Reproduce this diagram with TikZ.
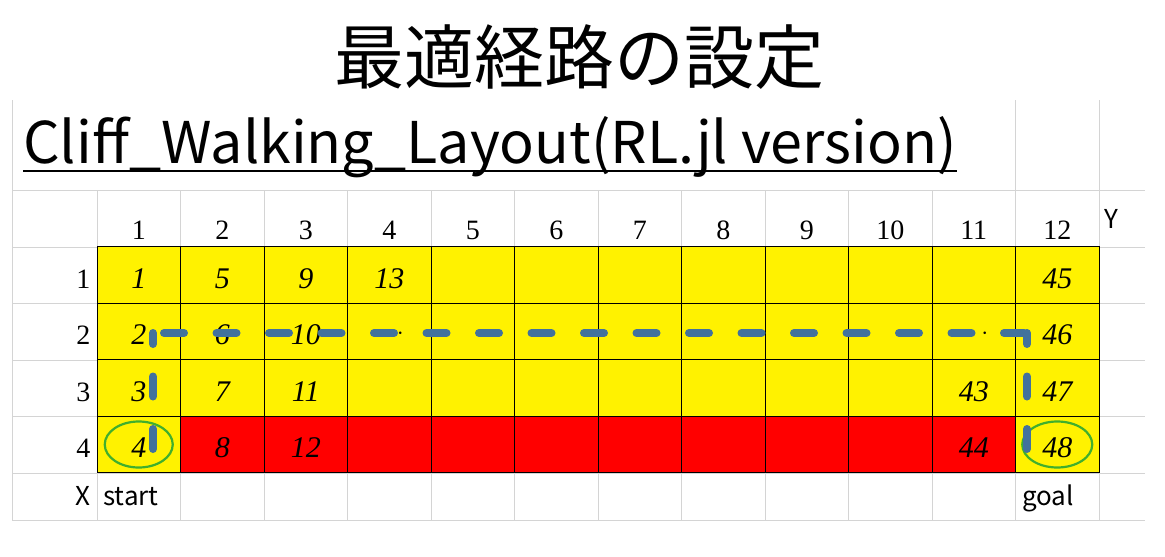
\documentclass[tikz,border=0pt]{standalone}
\usepackage{fontspec}
\setmainfont{Liberation Serif}
\newfontfamily\jpfont{Noto Sans CJK JP}
\usepackage{tikz}

\definecolor{gridgray}{RGB}{212,212,212}
\definecolor{pathblue}{RGB}{66,114,156}
\definecolor{ringgreen}{RGB}{64,175,45}

\tikzset{
  gridline/.style={draw=gridgray,line width=1pt},
  cellbox/.style={draw=black,line width=0.8pt,minimum width=83.5pt,minimum height=56.5pt,inner sep=0pt,fill=yellow},
  numtext/.style={font=\fontsize{30}{30}\selectfont\itshape,inner sep=0pt,anchor=base},
  headtext/.style={font=\fontsize{28}{28}\selectfont,inner sep=0pt,anchor=base},
  sanstext/.style={font=\jpfont\fontsize{26}{26}\selectfont,inner sep=0pt,anchor=base west},
  ring/.style={draw=ringgreen,line width=2.2pt},
  pathline/.style={draw=pathblue,line width=8pt,line cap=round,dash pattern=on 20pt off 32.5pt},
}

\begin{document}
\begin{tikzpicture}[x=1pt,y=-1pt]
  \useasboundingbox (0,0) rectangle (1165,557);

  % sheet lines
  \draw[gridline] (12,100) -- (12,520);
  \draw[gridline] (1015.5,100) -- (1015.5,190) (1099,100) -- (1099,190);
  \foreach \y in {190,247,303.5,360,416.5,473,520}
    \draw[gridline] (12,\y) -- (1145,\y);
  \foreach \k in {0,...,12}{
    \pgfmathsetmacro{\x}{97+\k*83.5}
    \draw[gridline] (\x,190) -- (\x,520);
  }

  % titles
  \node[font=\jpfont\fontsize{70}{70}\selectfont,inner sep=0pt] (heading) at (579,57) {最適経路の設定};
  \node[sanstext,font=\jpfont\fontsize{57.5}{57.5}\selectfont] (layout) at (23,163) {Cliff\_Walking\_Layout(RL.jl version)};
  \draw[line width=2.5pt] ([yshift=-8pt]layout.base west) -- ([yshift=-8pt]layout.base east);

  % grid cells
  \foreach \r in {1,...,4}{
    \foreach \c in {1,...,12}{
      \pgfmathsetmacro{\x}{138.75+(\c-1)*83.5}
      \pgfmathsetmacro{\y}{275+(\r-1)*56.5}
      \pgfmathparse{(\r==4 && \c>1 && \c<12)?1:0}
      \ifnum\pgfmathresult=1
        \node[cellbox,fill=red] (cell-\r-\c) at (\x,\y) {};
      \else
        \node[cellbox] (cell-\r-\c) at (\x,\y) {};
      \fi
    }
  }

  % state numbers
  \foreach \val/\r/\c in {1/1/1,5/1/2,9/1/3,13/1/4,45/1/12,
                          2/2/1,6/2/2,10/2/3,46/2/12,
                          3/3/1,7/3/2,11/3/3,43/3/11,47/3/12,
                          4/4/1,8/4/2,12/4/3,44/4/11,48/4/12}
    \node[numtext] (val-\r-\c) at ([yshift=-13pt]cell-\r-\c.center) {\val};
  \node[font=\fontsize{27}{27}\selectfont,inner sep=0pt] (dots-a) at ([yshift=-2pt]cell-2-4.center) {$\cdots$};
  \node[font=\fontsize{27}{27}\selectfont,inner sep=0pt] (dots-b) at ([yshift=-2pt]cell-2-11.center) {$\cdots$};

  % axis labels
  \foreach \c in {1,...,12}
    \node[headtext] (col-\c) at ([yshift=7pt]cell-1-\c.north) {\c};
  \foreach \r in {1,...,4}
    \node[headtext,anchor=base east] (row-\r) at ([xshift=-6pt,yshift=-13pt]cell-\r-1.west) {\r};
  \node[sanstext,anchor=base east] (xlab) at (91,505) {X};
  \node[sanstext] (ylab) at (1104,228) {Y};
  \node[sanstext] (start) at (103,505) {start};
  \node[sanstext] (goal) at (1022,505) {goal};

  % start and goal
  \draw[ring] (cell-4-1.center) ellipse [x radius=34pt,y radius=23pt];
  \draw[ring] (cell-4-12.center) ellipse [x radius=35pt,y radius=23pt];

  % optimal path
  \coordinate (pstart) at (153,449);
  \coordinate (turn-a) at (153,333);
  \coordinate (turn-b) at (1027,333);
  \coordinate (pend) at (1027,449);
  \draw[pathline] (pstart) -- (turn-a);
  \draw[pathline] ([xshift=11pt]turn-a) -- (turn-b);
  \draw[pathline] (pend) -- (turn-b);
\end{tikzpicture}
\end{document}
